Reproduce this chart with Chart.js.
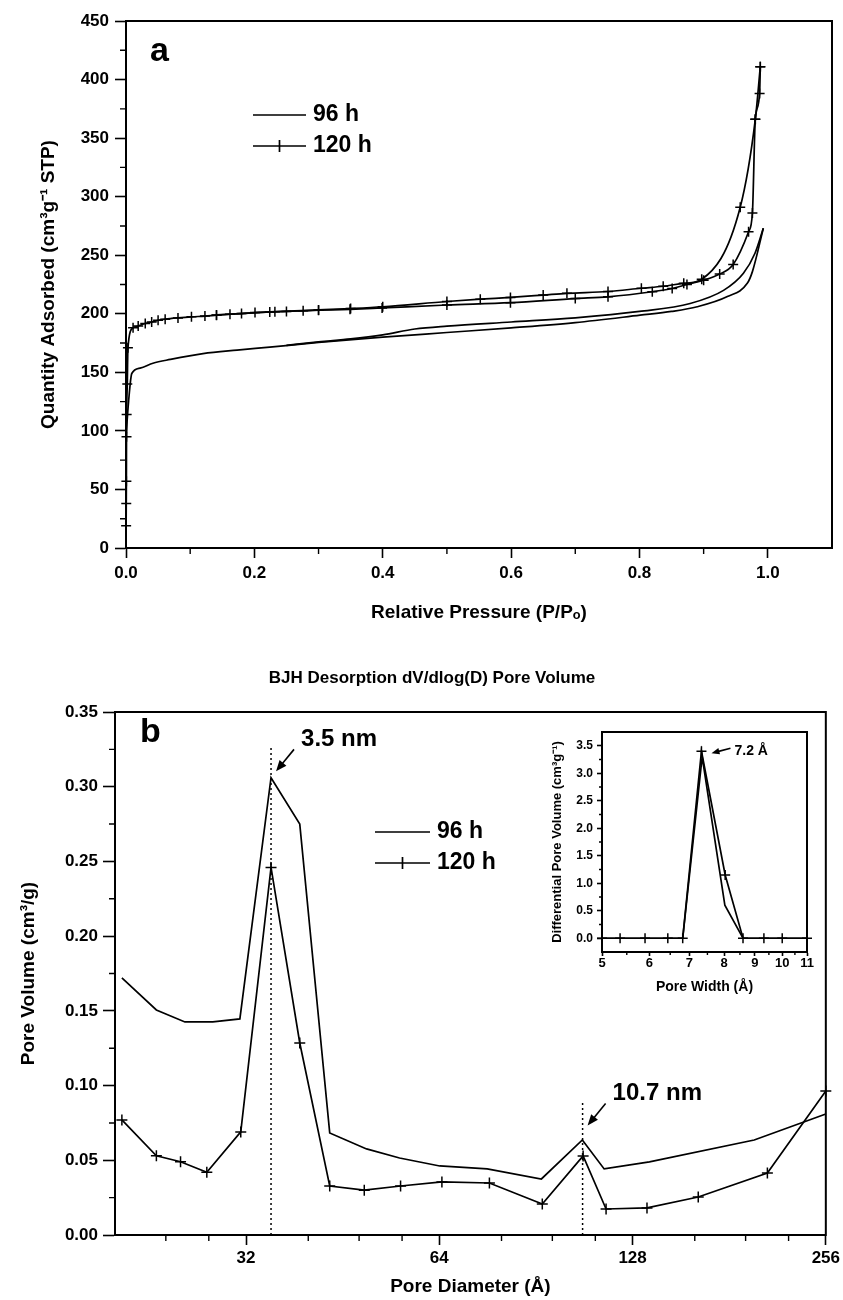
<!DOCTYPE html>
<html>
<head>
<meta charset="utf-8">
<script src="https://cdn.jsdelivr.net/npm/chart.js@4.4.0/dist/chart.umd.min.js"></script>
<style>
  body { margin: 0; background: #fff; }
  #wrap { position: relative; width: 843px; height: 1300px; }
  canvas { position: absolute; }
</style>
</head>
<body>
<div id="wrap">
  <canvas id="chartA" width="843" height="650" style="left:0;top:0"></canvas>
  <canvas id="chartB" width="843" height="650" style="left:0;top:650px"></canvas>
  <canvas id="chartC" width="285" height="290" style="left:540px;top:715px"></canvas>
</div>
<script>
// ---- panel a: N2 isotherms (relative pressure vs quantity adsorbed) ----
const a96AdsP = [0, 0.004, 0.009, 0.022, 0.042, 0.069, 0.12, 0.173, 0.224, 0.3, 0.4, 0.5, 0.6, 0.7, 0.801, 0.85, 0.89, 0.937, 0.968, 0.976, 0.993];
const a96AdsQ = [95, 125, 149, 153.6, 157.8, 161, 166, 169, 171.5, 175.5, 180, 184, 188, 192.5, 198.8, 202, 206, 214.7, 226, 236, 273];
const a96DesP = [0.25, 0.3, 0.35, 0.4, 0.45, 0.5, 0.6, 0.7, 0.8, 0.879, 0.931, 0.962, 0.98, 0.993];
const a96DesQ = [173, 176, 178.5, 182, 187, 189.5, 193, 196.5, 202, 208.8, 220, 234.6, 251.7, 273];
const a120AdsP = [0.0002, 0.0004, 0.0006, 0.0008, 0.001, 0.002, 0.003, 0.011, 0.019, 0.03, 0.04, 0.05, 0.061, 0.081, 0.102, 0.123, 0.141, 0.162, 0.18, 0.201, 0.224, 0.25, 0.276, 0.3, 0.349, 0.399, 0.5, 0.599, 0.7, 0.751, 0.82, 0.851, 0.874, 0.9, 0.925, 0.946, 0.97, 0.976, 0.9805, 0.9872, 0.9883];
const a120AdsQ = [19, 38, 57, 95, 114, 140, 171, 188, 189.5, 191.7, 193, 194.5, 195.4, 196.5, 197.4, 198, 198.8, 199.6, 200.2, 201, 201.5, 202, 202.5, 203, 203.8, 205, 207.5, 209.5, 213, 214.5, 218.8, 221.6, 225, 228.7, 234, 242, 270, 286, 366, 388, 411];
const a120DesP = [0.141, 0.232, 0.3, 0.35, 0.4, 0.5, 0.552, 0.599, 0.65, 0.687, 0.751, 0.803, 0.837, 0.869, 0.897, 0.957, 0.9805, 0.9883];
const a120DesQ = [199, 201.8, 203.3, 204.5, 206, 210.5, 212.5, 214, 216, 217.5, 219, 221.8, 223.5, 226, 229.5, 291, 366, 411];
const aXTicks = [0, 0.2, 0.4, 0.6, 0.8, 1.0];
const aXMinor = [0.1, 0.3, 0.5, 0.7, 0.9];
const aYTicks = [0, 50, 100, 150, 200, 250, 300, 350, 400, 450];
const aYMinor = [25, 75, 125, 175, 225, 275, 325, 375, 425];

// ---- panel b: BJH pore size distribution ----
const b96D = [20.5, 23.2, 25.7, 28.4, 31.3, 35.0, 38.8, 43.2, 49.3, 55.5, 64.1, 76.0, 92.3, 106.9, 115.6, 136, 198, 256];
const b96V = [0.172, 0.1506, 0.1426, 0.1426, 0.1446, 0.306, 0.275, 0.0683, 0.0576, 0.0515, 0.0462, 0.0442, 0.0375, 0.0636, 0.0442, 0.0489, 0.0636, 0.081];
const b120D = [20.5, 23.2, 25.3, 27.8, 31.4, 35.0, 38.8, 43.2, 48.9, 55.7, 64.6, 76.6, 92.6, 107.2, 116.4, 134.8, 162, 207.6, 256];
const b120V = [0.077, 0.053, 0.049, 0.042, 0.069, 0.246, 0.1285, 0.0328, 0.030, 0.0328, 0.0355, 0.0348, 0.0207, 0.0529, 0.0174, 0.0181, 0.0254, 0.0415, 0.0964];
const bPeakD = [35.0, 107.0];
const bPeakTop = [0.327, 0.09];
const bPeakText = ['3.5 nm', '10.7 nm'];
const bXTicks = [32, 64, 128, 256];
const bXMinor = [24, 28, 40, 48, 56, 80, 96, 112, 160, 192, 224];
const bYTicks = [0, 0.05, 0.10, 0.15, 0.20, 0.25, 0.30, 0.35];
const bYMinor = [0.025, 0.075, 0.125, 0.175, 0.225, 0.275, 0.325];

// ---- inset: micropore distribution ----
const c96W = [5, 6.82, 7.35, 8.02, 8.6, 11];
const c96V = [0, 0, 3.3, 0.6, 0, 0];
const c120W = [5, 5.36, 5.9, 6.44, 6.82, 7.33, 8.03, 8.6, 9.32, 10.0, 11];
const c120V = [0, 0, 0, 0, 0, 3.4, 1.15, 0, 0, 0, 0];
const cXTicks = [5, 6, 7, 8, 9, 10, 11];
const cXMinor = [5.5, 6.5, 7.5, 8.5, 9.5, 10.5];
const cYTicks = [0, 0.5, 1.0, 1.5, 2.0, 2.5, 3.0, 3.5];
const cYMinor = [0.25, 0.75, 1.25, 1.75, 2.25, 2.75, 3.25];

const FONT = "Arial, 'Liberation Sans', Helvetica, sans-serif";
Chart.defaults.font.family = FONT;
Chart.defaults.color = '#000';

const pts = (xs, ys) => xs.map((x, i) => ({ x: x, y: ys[i] }));

function curve(xs, ys, marker, r, smooth) {
  return {
    data: pts(xs, ys),
    showLine: true,
    borderColor: '#000',
    borderWidth: 1.7,
    pointStyle: 'cross',
    pointRadius: marker ? r : 0,
    pointBorderWidth: 1.5,
    pointBorderColor: '#000',
    cubicInterpolationMode: smooth ? 'monotone' : 'default',
    tension: 0,
    clip: 8
  };
}

function axis(c) {
  return {
    type: c.type || 'linear',
    position: c.pos,
    min: c.min,
    max: c.max,
    afterFit: s => { if (s.isHorizontal()) s.height = c.size; else s.width = c.size; },
    afterBuildTicks: s => { s.ticks = c.ticks.map(v => ({ value: v })); },
    ticks: { autoSkip: false, maxRotation: 0, padding: c.pad, color: '#000',
             font: { size: c.font, weight: 'bold' }, callback: c.fmt },
    grid: { drawOnChartArea: false, tickLength: c.tick, tickWidth: 1.6, tickColor: '#000' },
    border: { color: '#000', width: 2 },
    title: { display: true, text: c.title, color: '#000',
             font: { size: c.titleSize, weight: 'bold' }, padding: c.titlePad }
  };
}

function minorTicks(chart, id, values, len) {
  const s = chart.scales[id], ctx = chart.ctx, a = chart.chartArea;
  ctx.save();
  ctx.strokeStyle = '#000';
  ctx.lineWidth = 1.4;
  ctx.beginPath();
  values.forEach(v => {
    const p = s.getPixelForValue(v);
    if (s.isHorizontal()) { ctx.moveTo(p, a.bottom); ctx.lineTo(p, a.bottom + len); }
    else { ctx.moveTo(a.left, p); ctx.lineTo(a.left - len, p); }
  });
  ctx.stroke();
  ctx.restore();
}

function frame(chart) {
  const a = chart.chartArea, ctx = chart.ctx;
  ctx.save();
  ctx.strokeStyle = '#000';
  ctx.lineWidth = 2;
  ctx.strokeRect(a.left, a.top, a.right - a.left, a.bottom - a.top);
  ctx.restore();
}

function text(ctx, str, x, y, size, align) {
  ctx.save();
  ctx.fillStyle = '#000';
  ctx.font = 'bold ' + size + 'px ' + FONT;
  ctx.textAlign = align || 'left';
  ctx.textBaseline = 'middle';
  ctx.fillText(str, x, y);
  ctx.restore();
}

function arrow(ctx, x1, y1, x2, y2, head) {
  const ang = Math.atan2(y2 - y1, x2 - x1);
  ctx.save();
  ctx.strokeStyle = '#000';
  ctx.fillStyle = '#000';
  ctx.lineWidth = 1.6;
  ctx.beginPath();
  ctx.moveTo(x1, y1);
  ctx.lineTo(x2 - Math.cos(ang) * head * 0.8, y2 - Math.sin(ang) * head * 0.8);
  ctx.stroke();
  ctx.beginPath();
  ctx.moveTo(x2, y2);
  ctx.lineTo(x2 - head * Math.cos(ang) + head * 0.4 * Math.sin(ang), y2 - head * Math.sin(ang) - head * 0.4 * Math.cos(ang));
  ctx.lineTo(x2 - head * Math.cos(ang) - head * 0.4 * Math.sin(ang), y2 - head * Math.sin(ang) + head * 0.4 * Math.cos(ang));
  ctx.closePath();
  ctx.fill();
  ctx.restore();
}

function legend(ctx, x0, x1, y0, gap, size, markerR) {
  ctx.save();
  ctx.strokeStyle = '#000';
  ctx.lineWidth = 1.7;
  ctx.beginPath();
  ctx.moveTo(x0, y0); ctx.lineTo(x1, y0);
  ctx.moveTo(x0, y0 + gap); ctx.lineTo(x1, y0 + gap);
  const mx = (x0 + x1) / 2;
  ctx.moveTo(mx, y0 + gap - markerR); ctx.lineTo(mx, y0 + gap + markerR);
  ctx.stroke();
  ctx.restore();
  text(ctx, '96 h', x1 + 7, y0, size);
  text(ctx, '120 h', x1 + 7, y0 + gap, size);
}

const base = {
  responsive: false,
  animation: false,
  events: [],
  devicePixelRatio: 1,
  plugins: { legend: { display: false }, tooltip: { enabled: false } }
};

// ---------- panel a ----------
new Chart(document.getElementById('chartA'), {
  type: 'scatter',
  data: {
    datasets: [
      curve(a96AdsP, a96AdsQ, false, 0, true),
      curve(a96DesP, a96DesQ, false, 0, true),
      curve(a120AdsP, a120AdsQ, true, 5, true),
      curve(a120DesP, a120DesQ, true, 5, true)
    ]
  },
  options: Object.assign({}, base, {
    layout: { padding: { left: 0, right: 11, top: 21, bottom: 2 } },
    scales: {
      x: axis({ pos: 'bottom', min: 0, max: 1.1, size: 100, ticks: aXTicks, pad: 5, tick: 10, font: 17,
                fmt: v => v.toFixed(1), title: 'Relative Pressure (P/Pₒ)', titleSize: 19, titlePad: { bottom: 24 } }),
      y: axis({ pos: 'left', min: 0, max: 450, size: 126, ticks: aYTicks, pad: 6, tick: 11, font: 17,
                fmt: v => String(v), title: 'Quantity Adsorbed (cm³g⁻¹ STP)', titleSize: 19, titlePad: { top: 37 } })
    }
  }),
  plugins: [{
    id: 'decorA',
    afterDraw(chart) {
      const ctx = chart.ctx;
      frame(chart);
      minorTicks(chart, 'x', aXMinor, 6);
      minorTicks(chart, 'y', aYMinor, 6);
      text(ctx, 'a', 150, 52, 34);
      legend(ctx, 253, 306, 115, 31, 23, 6);
    }
  }]
});

// ---------- panel b ----------
const bDotted = bPeakD.map((d, i) => ({
  data: [{ x: d, y: 0 }, { x: d, y: bPeakTop[i] }],
  showLine: true, borderColor: '#000', borderWidth: 1.5, borderDash: [2, 3], pointRadius: 0
}));

new Chart(document.getElementById('chartB'), {
  type: 'scatter',
  data: {
    datasets: bDotted.concat([
      curve(b96D, b96V, false, 0, false),
      curve(b120D, b120V, true, 5.5, false)
    ])
  },
  options: Object.assign({}, base, {
    layout: { padding: { left: 0, right: 17, top: 62, bottom: 2 } },
    scales: {
      x: axis({ type: 'logarithmic', pos: 'bottom', min: 20, max: 256, size: 63, ticks: bXTicks, pad: 3, tick: 10, font: 17,
                fmt: v => String(v), title: 'Pore Diameter (Å)', titleSize: 19, titlePad: { bottom: 0 } }),
      y: axis({ pos: 'left', min: 0, max: 0.35, size: 115, ticks: bYTicks, pad: 5, tick: 12, font: 17,
                fmt: v => v.toFixed(2), title: 'Pore Volume (cm³/g)', titleSize: 19, titlePad: { top: 17 } })
    }
  }),
  plugins: [{
    id: 'decorB',
    afterDraw(chart) {
      const ctx = chart.ctx, sx = chart.scales.x, sy = chart.scales.y;
      frame(chart);
      minorTicks(chart, 'x', bXMinor, 6);
      minorTicks(chart, 'y', bYMinor, 6);
      text(ctx, 'BJH Desorption dV/dlog(D) Pore Volume', 432, 28, 17, 'center');
      text(ctx, 'b', 140, 83, 34);
      legend(ctx, 375, 430, 182, 31, 23, 6);
      bPeakD.forEach((d, i) => {
        const px = sx.getPixelForValue(d), py = sy.getPixelForValue(bPeakTop[i]);
        text(ctx, bPeakText[i], px + 30, py - 7, 24);
        arrow(ctx, px + 23, py + 3, px + 5, py + 25, 11);
      });
    }
  }]
});

// ---------- inset ----------
new Chart(document.getElementById('chartC'), {
  type: 'scatter',
  data: {
    datasets: [
      curve(c96W, c96V, false, 0, false),
      curve(c120W, c120V, true, 5, false)
    ]
  },
  options: Object.assign({}, base, {
    layout: { padding: { left: 0, right: 18, top: 17, bottom: 3 } },
    scales: {
      x: axis({ type: 'logarithmic', pos: 'bottom', min: 5, max: 11, size: 50, ticks: cXTicks, pad: 0, tick: 4, font: 13,
                fmt: v => String(v), title: 'Pore Width (Å)', titleSize: 14, titlePad: { bottom: 6 } }),
      y: axis({ pos: 'left', min: -0.25, max: 3.75, size: 62, ticks: cYTicks, pad: 4, tick: 5, font: 12,
                fmt: v => v.toFixed(1), title: 'Differential Pore Volume (cm³g⁻¹)', titleSize: 13, titlePad: { top: 10 } })
    }
  }),
  plugins: [{
    id: 'decorC',
    afterDraw(chart) {
      const ctx = chart.ctx, sx = chart.scales.x, sy = chart.scales.y;
      frame(chart);
      minorTicks(chart, 'x', cXMinor, 3);
      minorTicks(chart, 'y', cYMinor, 3);
      const k = c120V.indexOf(Math.max(...c120V));
      const px = sx.getPixelForValue(c120W[k]), py = sy.getPixelForValue(c120V[k]);
      text(ctx, '7.2 Å', px + 33, py, 14);
      arrow(ctx, px + 29, py - 3, px + 10, py + 2, 8);
    }
  }]
});
</script>
</body>
</html>
